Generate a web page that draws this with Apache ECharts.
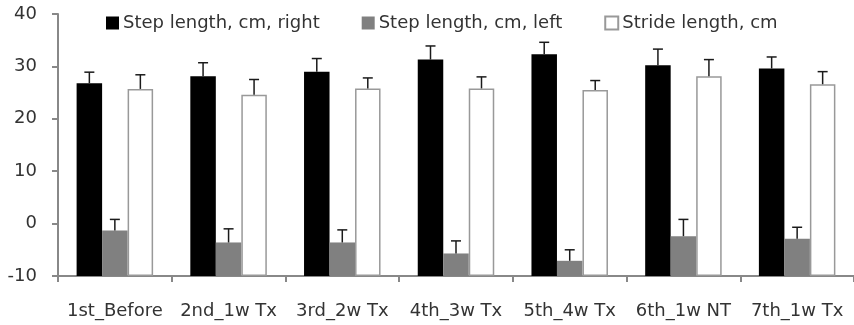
<!DOCTYPE html>
<html><head><meta charset="utf-8">
<script src="https://cdn.jsdelivr.net/npm/echarts@6/dist/echarts.min.js"></script>
<style>html,body{margin:0;padding:0;background:#fff}#c{width:854px;height:325px}</style>
</head><body><div id="c"></div>
<script>
var categories = ['1st_Before','2nd_1w Tx','3rd_2w Tx','4th_3w Tx','5th_4w Tx','6th_1w NT','7th_1w Tx'];
var rightStep = [26.8, 28.1, 29.0, 31.3, 32.3, 30.2, 29.6];
var rightErr  = [2.1, 2.6, 2.5, 2.6, 2.3, 3.1, 2.2];
var leftStep  = [-1.3, -3.6, -3.6, -5.7, -7.1, -2.4, -2.9];
var leftErr   = [2.1, 2.6, 2.4, 2.4, 2.1, 3.2, 2.2];
var stride    = [25.7, 24.6, 25.8, 25.8, 25.5, 28.1, 26.6];
var strideErr = [2.7, 2.9, 2.0, 2.2, 1.8, 3.2, 2.4];
var seriesNames = ['Step length, cm, right','Step length, cm, left','Stride length, cm'];

var BW = 25.5;
function errData(vals, errs){ return vals.map(function(v,i){ return [i, v, errs[i]]; }); }
function errSeries(vals, errs, slot){
  return {
    type:'custom', z:10, silent:true,
    encode:{x:0,y:1},
    data: errData(vals, errs),
    renderItem: function(params, api){
      var c = api.value(0), v = api.value(1), e = api.value(2);
      var p0 = api.coord([c, v]);
      var p1 = api.coord([c, v + e]);
      var x = p0[0] + slot * BW;
      return {type:'group', children:[
        {type:'line', shape:{x1:x,y1:p0[1],x2:x,y2:p1[1]}, style:{stroke:'#1a1a1a',lineWidth:1.5}},
        {type:'line', shape:{x1:x-5,y1:p1[1],x2:x+5,y2:p1[1]}, style:{stroke:'#1a1a1a',lineWidth:1.5}}
      ]};
    }
  };
}
var chart = echarts.init(document.getElementById('c'), null, {renderer:'canvas'});
var FONT = '"DejaVu Sans", sans-serif';
var txt = {fontFamily:FONT, fontSize:18, color:'#333'};
chart.setOption({
  animation:false,
  grid:{left:58, top:14, bottom:49, width:799},
  legend:{
    data:seriesNames, top:9, left:101, itemWidth:13, itemHeight:13, itemGap:42,
    icon:'rect', textStyle:{fontFamily:FONT, fontSize:18, color:'#333', padding:[0,0,0,-1]}
  },
  xAxis:{
    type:'category', data:categories,
    axisLine:{onZero:false, lineStyle:{color:'#888', width:2}},
    axisTick:{show:true, length:6, lineStyle:{color:'#888', width:2}},
    axisLabel:Object.assign({margin:26, interval:0, hideOverlap:false}, txt)
  },
  yAxis:{
    type:'value', min:-10, max:40, interval:10, startValue:-10,
    splitLine:{show:false},
    axisLine:{show:true, lineStyle:{color:'#888', width:2}},
    axisTick:{show:true, length:6, lineStyle:{color:'#888', width:2}},
    axisLabel:Object.assign({margin:21}, txt)
  },
  series:[
    {name:seriesNames[0], type:'bar', data:rightStep, barWidth:BW, barGap:'0%', itemStyle:{color:'#000'}},
    {name:seriesNames[1], type:'bar', data:leftStep, barWidth:BW, barGap:'0%', itemStyle:{color:'#808080'}},
    {name:seriesNames[2], type:'bar', data:stride, barWidth:BW, barGap:'0%', itemStyle:{color:'#fff', borderColor:'#999', borderWidth:1.5}},
    errSeries(rightStep, rightErr, -1),
    errSeries(leftStep, leftErr, 0),
    errSeries(stride, strideErr, 1)
  ]
});
</script></body></html>
